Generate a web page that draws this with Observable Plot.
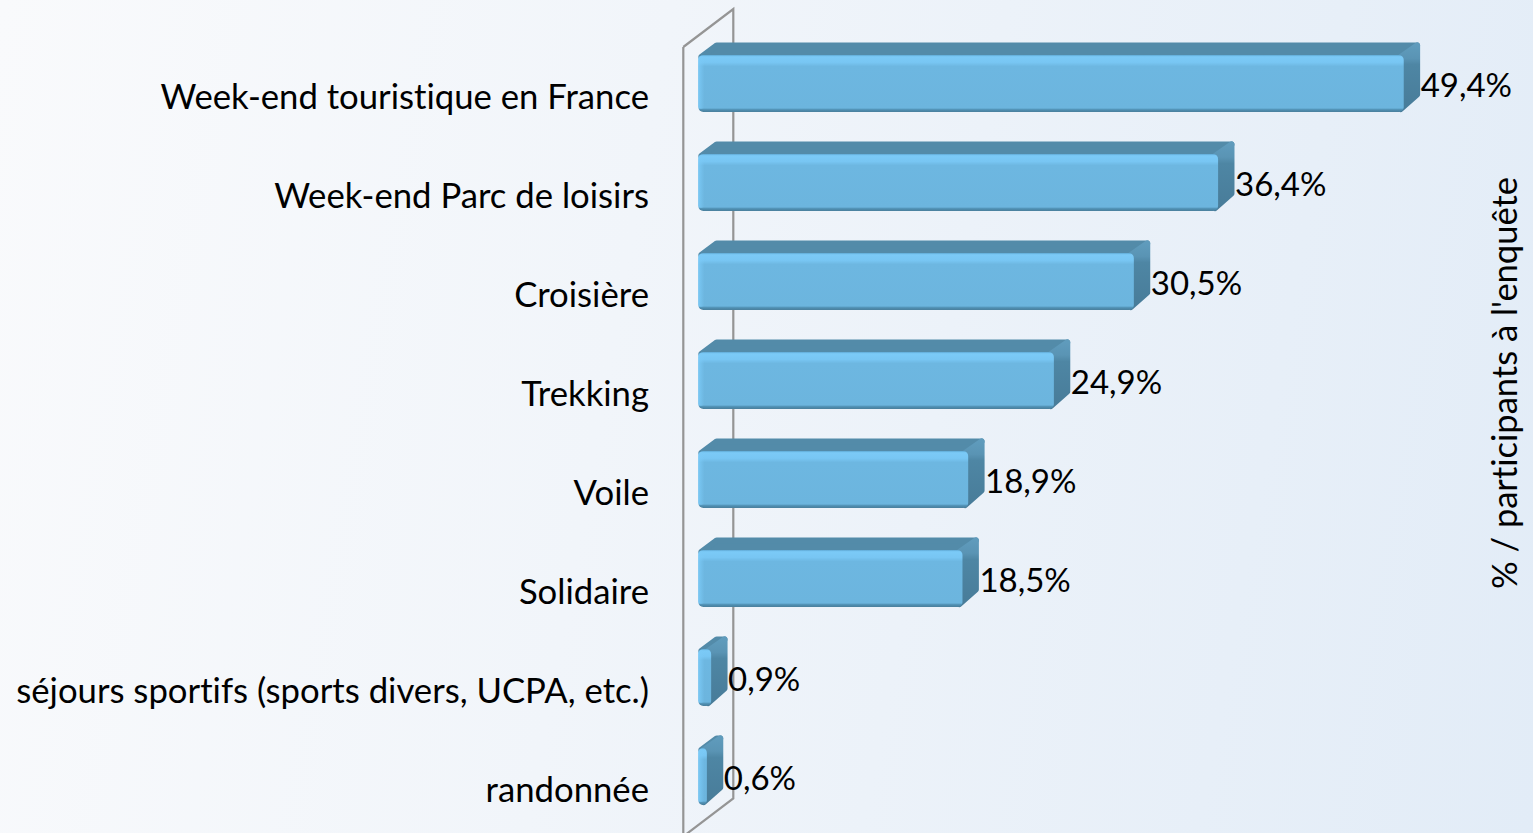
<!DOCTYPE html>
<html>
<head>
<meta charset="utf-8">
<script src="https://cdn.jsdelivr.net/npm/d3@7"></script>
<script src="https://cdn.jsdelivr.net/npm/@observablehq/plot@0.6"></script>
<style>html,body{margin:0;padding:0;overflow:hidden}</style>
</head>
<body>
<div id="chart"></div>
<script>
const categories = ["Week-end touristique en France","Week-end Parc de loisirs","Croisière","Trekking","Voile","Solidaire","séjours sportifs (sports divers, UCPA, etc.)","randonnée"];
const values = [49.4,36.4,30.5,24.9,18.9,18.5,0.9,0.6];
const axisTitle = "% / participants à l'enquête";
const rows = categories.map((category,i)=>({category,value:values[i]}));

const DX = 16.4, DY = 12.5;
const fmt = v => v.toFixed(1).replace(".",",") + "%";
const NS = "http://www.w3.org/2000/svg";

function gradient(defs,id,stops,horizontal){
  const g = defs.append("linearGradient").attr("id",id).attr("x1",0).attr("y1",0)
    .attr("x2",horizontal?1:0).attr("y2",horizontal?0:1);
  stops.forEach(([o,c,a])=>{
    const s=g.append("stop").attr("offset",o).attr("stop-color",c);
    if(a!=null) s.attr("stop-opacity",a);
  });
}

function wall(index,{x,y}){
  const g = d3.create("svg:g");
  const fx = x(0)-15, bx = x(0)+35;
  const top = y(categories[0]), step = y(categories[1])-y(categories[0]);
  const bot = y(categories[categories.length-1])+step*0.58;
  const d = [[fx,top-8],[bx,top-46],[bx,bot-7],[fx,bot+31]];
  g.append("path").attr("fill","none").attr("stroke","#959595").attr("stroke-width",2.2)
    .attr("d",d3.line()(d)+`M${fx},${top-8}L${fx},${bot+40}`);
  return g.node();
}

function extrude(index,scales,vals,dims,ctx,next){
  const node = next(index,scales,vals,dims,ctx);
  const root = d3.select(node);
  const defs = root.insert("defs",":first-child");
  gradient(defs,"front",[[0,"#5fa9d4"],[0.03,"#7bcaf7"],[0.13,"#78c6f3"],[0.2,"#6db7e1"],[0.93,"#6cb5de"],[0.96,"#4f8fb2"],[1,"#4a7f9c"]]);
  gradient(defs,"side",[[0,"#5f9bbc"],[0.2,"#5a94b4"],[0.3,"#4e86a4"],[1,"#487c99"]]);
  gradient(defs,"leftEdge",[[0,"#7bcaf7",0.9],[1,"#7bcaf7",0]],true);
  root.selectAll("rect").each(function(){
    const x=+this.getAttribute("x"), y=+this.getAttribute("y"), w=+this.getAttribute("width"), h=+this.getAttribute("height");
    const poly=(pts,fill)=>{
      const p=document.createElementNS(NS,"polygon");
      p.setAttribute("points",pts.map(a=>a.join(",")).join(" "));
      p.setAttribute("fill",fill); p.setAttribute("stroke",fill);
      p.setAttribute("stroke-width",6); p.setAttribute("stroke-linejoin","round");
      this.parentNode.insertBefore(p,this);
    };
    poly([[x+3,y+2],[x+DX+2,y-DY+3],[x+w+DX-3,y-DY+3],[x+w,y+2]],"#538ba9");
    poly([[x+w-3,y+2],[x+w+DX-3,y-DY+3],[x+w+DX-3,y+h-DY-5],[x+w-3,y+h-3]],"url(#side)");
    const e=document.createElementNS(NS,"rect");
    e.setAttribute("x",x); e.setAttribute("y",y+1); e.setAttribute("width",Math.min(6,w)); e.setAttribute("height",h-4);
    e.setAttribute("rx",3); e.setAttribute("fill","url(#leftEdge)");
    this.parentNode.insertBefore(e,this.nextSibling);
  });
  return node;
}

const font = "Lato, sans-serif";
const chart = Plot.plot({
  width:1533, height:833,
  marginTop:0, marginRight:0, marginBottom:0, marginLeft:698,
  style:{background:"linear-gradient(100deg,#f9fafc 0%,#f1f5fa 40%,#e2ecf7 100%)",fontFamily:font,color:"#000",fontVariantLigatures:"none"},
  x:{domain:[0,50],range:[698.3,1412.3],axis:null},
  y:{domain:categories,range:[34.5,826.5],paddingInner:0.42,paddingOuter:0.21,axis:null},
  marks:[
    wall,
    Plot.barX(rows,{x:"value",y:"category",fill:"url(#front)",rx:5,render:extrude}),
    Plot.axisY({anchor:"left",tickSize:0,tickPadding:49.5,dy:13.5,fontSize:34.7,lineWidth:Infinity,fill:"#000",fontFamily:font,label:null}),
    Plot.text(rows,{x:"value",y:"category",text:d=>fmt(d.value),dx:DX,dy:2.5,textAnchor:"start",fontSize:33,fill:"#000",fontFamily:font}),
    Plot.text([axisTitle],{frameAnchor:"right",textAnchor:"middle",rotate:-90,dx:-28,dy:-34,fontSize:34.5,fill:"#000",fontFamily:font})
  ]
});
document.getElementById("chart").append(chart);
</script>
</body>
</html>
